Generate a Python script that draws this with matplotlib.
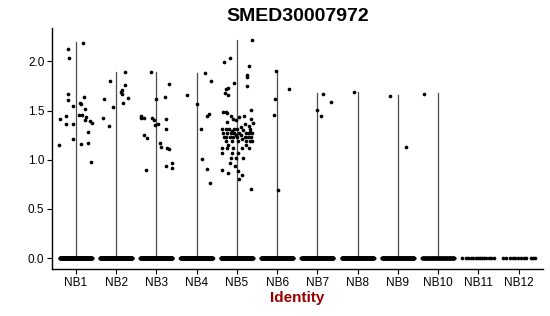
import numpy as np
import matplotlib
matplotlib.use("Agg")
import matplotlib.pyplot as plt

plt.rcParams["font.family"] = ["Liberation Sans", "DejaVu Sans"]

GENE = "SMED30007972"
GROUPS = ["NB1", "NB2", "NB3", "NB4", "NB5", "NB6", "NB7", "NB8", "NB9", "NB10", "NB11", "NB12"]

# maximum expression per cluster (top of each violin), 0 means no violin
VIOLIN_MAX = [2.20, 1.89, 1.89, 1.88, 2.22, 1.90, 1.68, 1.69, 1.66, 1.68, 0.0, 0.0]

# number of cells with zero expression per cluster
ZERO_COUNTS = [220, 220, 220, 220, 220, 200, 200, 200, 180, 120, 14, 12]
NB11_ZERO_JITTER = [-0.40, -0.31, -0.26, -0.19, -0.13, -0.07, -0.02, 0.03, 0.08, 0.13, 0.20, 0.26, 0.32, 0.38]
NB12_ZERO_JITTER = [-0.40, -0.31, -0.22, -0.14, -0.08, -0.02, 0.06, 0.12, 0.18, 0.30, 0.36, 0.41]

# non-zero cells: expression value and horizontal jitter
NB1_VALUES = [2.19, 2.13, 2.03, 1.67, 1.61, 1.64, 1.58, 1.57, 1.55, 1.52, 1.46, 1.46, 1.43, 1.44,
              1.41, 1.40, 1.39, 1.37, 1.36, 1.36, 1.28, 1.21, 1.16, 1.17, 1.15, 0.98]
NB1_JITTER = [0.17, -0.20, -0.17, -0.20, -0.19, 0.20, 0.10, 0.12, -0.06, 0.24, 0.09, 0.16, 0.26, -0.25,
              -0.40, 0.22, 0.36, 0.40, -0.23, -0.07, 0.30, -0.07, 0.13, 0.31, -0.41, 0.38]

NB2_VALUES = [1.89, 1.80, 1.76, 1.71, 1.69, 1.67, 1.63, 1.62, 1.58, 1.54, 1.42, 1.34]
NB2_JITTER = [0.23, -0.16, 0.23, 0.16, 0.12, 0.14, 0.30, -0.30, 0.17, -0.07, -0.33, -0.17]

NB3_VALUES = [1.89, 1.77, 1.64, 1.62, 1.44, 1.42, 1.42, 1.42, 1.40, 1.36, 1.35, 1.41, 1.31, 1.25,
              1.22, 1.17, 1.13, 1.12, 1.11, 0.90, 0.94, 0.97, 0.92]
NB3_JITTER = [-0.13, 0.31, 0.22, 0.00, -0.37, -0.30, -0.38, -0.10, -0.05, 0.05, -0.02, 0.24, 0.25, -0.31,
              -0.24, 0.09, 0.12, 0.27, 0.32, -0.26, 0.23, 0.38, 0.39]

NB4_VALUES = [1.88, 1.80, 1.66, 1.57, 1.47, 1.44, 1.31, 1.01, 0.91, 0.76]
NB4_JITTER = [0.22, 0.36, -0.23, 0.00, 0.31, 0.27, 0.12, 0.13, 0.25, 0.33]

NB5_VALUES = [2.22, 2.03, 1.99, 1.95, 1.86, 1.84, 1.78, 1.75, 1.73, 1.72, 1.68, 1.66,
              1.49, 1.49, 1.48, 1.45, 1.51, 1.44, 1.43, 1.41, 1.41, 1.40, 1.38, 1.37, 1.36, 1.34,
              1.31, 1.31, 1.31, 1.31, 1.31, 1.31, 1.33, 1.28, 1.30, 1.29,
              1.27, 1.27, 1.27, 1.27, 1.27, 1.27, 1.27, 1.27,
              1.25, 1.25,
              1.23, 1.23, 1.23, 1.23, 1.23, 1.23, 1.23, 1.23, 1.21,
              1.19, 1.19, 1.19, 1.19, 1.19, 1.19, 1.15, 1.15,
              1.12, 1.12, 1.12, 1.12, 1.12, 1.07, 1.07, 1.07, 1.02, 1.02, 1.02,
              0.97, 0.94, 0.90, 0.89, 0.87, 0.85, 0.80, 0.70]
NB5_JITTER = [0.38, -0.17, -0.31, 0.31, 0.26, 0.26, -0.08, 0.26, -0.21, -0.28, -0.29, -0.23,
              -0.34, -0.28, -0.24, -0.15, 0.35, 0.17, 0.05, 0.35, -0.10, -0.02, -0.25, 0.40, 0.21, 0.31,
              -0.37, -0.28, -0.20, -0.07, 0.00, 0.33, 0.11, 0.33, 0.16, -0.12,
              -0.35, -0.25, -0.15, -0.06, 0.06, 0.22, 0.30, 0.38,
              -0.03, 0.10,
              -0.33, -0.26, -0.18, -0.10, 0.00, 0.20, 0.28, 0.36, 0.14,
              -0.27, -0.12, 0.04, 0.23, 0.33, 0.38, 0.24, -0.22,
              -0.38, -0.24, -0.09, 0.14, 0.30, -0.38, -0.12, 0.02, -0.15, -0.03, 0.15,
              -0.18, -0.04, -0.36, 0.03, -0.21, 0.12, 0.05, 0.35]

NB6_VALUES = [1.90, 1.72, 1.62, 1.46, 0.69]
NB6_JITTER = [-0.03, 0.30, -0.05, -0.08, 0.02]

NB7_VALUES = [1.67, 1.59, 1.51, 1.44]
NB7_JITTER = [0.14, 0.34, 0.00, 0.10]

NB8_VALUES = [1.69]
NB8_JITTER = [-0.09]

NB9_VALUES = [1.65, 1.13]
NB9_JITTER = [-0.20, 0.19]

NB10_VALUES = [1.67]
NB10_JITTER = [-0.35]

nonzero = [
    (NB1_VALUES, NB1_JITTER), (NB2_VALUES, NB2_JITTER), (NB3_VALUES, NB3_JITTER),
    (NB4_VALUES, NB4_JITTER), (NB5_VALUES, NB5_JITTER), (NB6_VALUES, NB6_JITTER),
    (NB7_VALUES, NB7_JITTER), (NB8_VALUES, NB8_JITTER), (NB9_VALUES, NB9_JITTER),
    (NB10_VALUES, NB10_JITTER), ([], []), ([], []),
]

fig = plt.figure(figsize=(5.5, 3.16), dpi=100)
ax = fig.add_axes([0.0945, 0.149, 0.8925, 0.762])

positions = np.arange(1, len(GROUPS) + 1)

# violins collapse to thin lines because nearly all cells sit at zero
for pos, top in zip(positions, VIOLIN_MAX):
    if top > 0:
        ax.plot([pos, pos], [0, top], color="#4d4d4d", linewidth=0.9, zorder=1)

for i, pos in enumerate(positions):
    if GROUPS[i] == "NB11":
        zero_dx = np.array(NB11_ZERO_JITTER)
    elif GROUPS[i] == "NB12":
        zero_dx = np.array(NB12_ZERO_JITTER)
    else:
        zero_dx = np.linspace(-0.4, 0.4, ZERO_COUNTS[i])
    ax.scatter(pos + zero_dx, np.zeros(len(zero_dx)), s=7, color="black", linewidths=0, zorder=2)

    vals, dx = nonzero[i]
    if vals:
        ax.scatter(pos + np.array(dx), vals, s=7, color="black", linewidths=0, zorder=3)

ax.set_xlim(0.41, 12.6)
ax.set_ylim(-0.109, 2.338)
ax.set_xticks(positions)
ax.set_xticklabels(GROUPS)
ax.set_yticks([0.0, 0.5, 1.0, 1.5, 2.0])
ax.set_yticklabels(["0.0", "0.5", "1.0", "1.5", "2.0"])
ax.tick_params(axis="both", labelsize=8.5, length=3.5, width=0.8, colors="black", pad=2)

for side in ["top", "right"]:
    ax.spines[side].set_visible(False)
for side in ["left", "bottom"]:
    ax.spines[side].set_linewidth(1.0)

ax.set_xlabel("Identity", fontsize=11, fontweight="bold", color="#990000", labelpad=2)
ax.set_title(GENE, fontsize=14, fontweight="bold", pad=5)

fig.savefig("out.png", dpi=100)
